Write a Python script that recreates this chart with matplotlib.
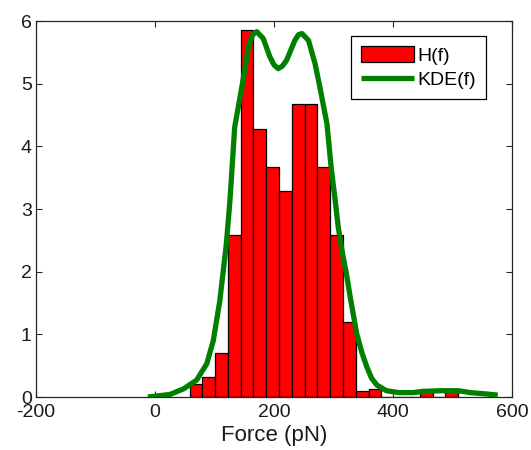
import matplotlib
matplotlib.use("Agg")
import matplotlib.pyplot as plt
import numpy as np

plt.rcParams['font.family'] = ['Liberation Sans', 'DejaVu Sans']
plt.rcParams['axes.unicode_minus'] = False

# Histogram data
bin_start = 58.0
bin_width = 21.5
hist_heights = [0.21, 0.32, 0.71, 2.58, 5.86, 4.27, 3.67, 3.29, 4.67, 4.67,
                3.67, 2.58, 1.19, 0.10, 0.12, 0.0, 0.0, 0.0, 0.10, 0.0, 0.10]

# KDE curve data
kde_x = [-12, 25, 48, 70, 87, 98, 109, 120, 126, 134, 146, 157, 164, 171, 182,
         193, 200, 207, 214, 221, 235, 241, 247, 258, 269, 277, 289, 296, 302,
         308, 315, 322, 328, 339, 348, 356, 364, 373, 389, 410, 434, 450, 480,
         510, 530, 555, 576]
kde_y = [0.0, 0.04, 0.13, 0.27, 0.53, 0.9, 1.54, 2.45, 3.14, 4.31, 4.95, 5.58,
         5.78, 5.83, 5.72, 5.43, 5.3, 5.24, 5.28, 5.37, 5.69, 5.78, 5.8, 5.69,
         5.32, 4.95, 4.36, 3.67, 3.2, 2.71, 2.3, 1.95, 1.6, 1.01, 0.7, 0.48,
         0.3, 0.19, 0.1, 0.07, 0.07, 0.09, 0.1, 0.1, 0.07, 0.05, 0.03]

xticks = [-200, 0, 200, 400, 600]
yticks = [0, 1, 2, 3, 4, 5, 6]

fig = plt.figure(figsize=(5.31, 4.5), dpi=100)
ax = fig.add_axes([36/531, 1-397/450, 476/531, 376/450])

n = len(hist_heights)
lefts = bin_start + bin_width * np.arange(n)
bars = ax.bar(lefts, hist_heights, width=bin_width, align='edge', color='#ff0000',
              edgecolor='black', linewidth=0.9, label='H(f)', zorder=2)
line, = ax.plot(kde_x, kde_y, color='#008000', linewidth=3.8, label='KDE(f)',
                zorder=3, solid_joinstyle='round', solid_capstyle='butt')

ax.set_xlim(-200, 600)
ax.set_ylim(0, 6)
ax.set_xticks(xticks)
ax.set_yticks(yticks)
ax.tick_params(direction='in', length=4, width=0.8, top=True, right=True,
               labelsize=14, colors='#262626', pad=3)
ax.tick_params(axis='x', pad=5)
for lab in ax.get_xticklabels() + ax.get_yticklabels():
    lab.set_color('#1a1a1a')
for s in ax.spines.values():
    s.set_color('#262626')
    s.set_linewidth(0.9)
ax.set_xlabel('Force (pN)', fontsize=16, color='#1a1a1a', labelpad=3)

leg = ax.legend([bars, line], ['H(f)', 'KDE(f)'], loc='upper right',
                bbox_to_anchor=(0.945, 0.96), borderaxespad=0,
                fontsize=14, fancybox=False, edgecolor='black', framealpha=1,
                handlelength=2.7, handleheight=0.9, handletextpad=0.2,
                labelspacing=0.3, borderpad=0.5)
leg.get_frame().set_linewidth(0.9)

fig.savefig('out.png', dpi=100)
